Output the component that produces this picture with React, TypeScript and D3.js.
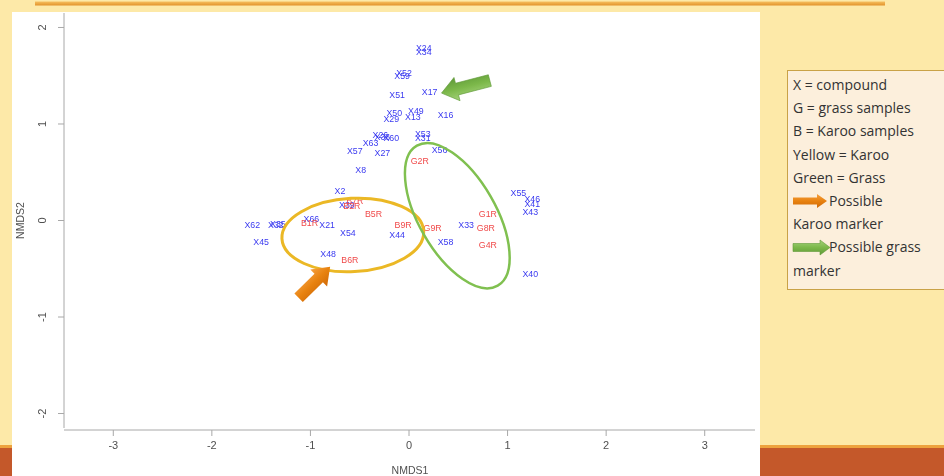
import React from 'react';
import * as d3 from 'd3';

// compound scores (blue labels)
const compoundLabels = ['X24', 'X34', 'X52', 'X59', 'X51', 'X17', 'X50', 'X29', 'X49', 'X13', 'X16', 'X26', 'X36', 'X60', 'X53', 'X31', 'X63', 'X57', 'X27', 'X56', 'X8', 'X2', 'X39', 'X66', 'X21', 'X54', 'X48', 'X62', 'X32', 'X35', 'X45', 'X44', 'X58', 'X33', 'X55', 'X46', 'X41', 'X43', 'X40'];
const compoundX = [0.15, 0.15, -0.05, -0.07, -0.12, 0.21, -0.15, -0.18, 0.07, 0.04, 0.37, -0.29, -0.27, -0.18, 0.14, 0.14, -0.39, -0.55, -0.27, 0.31, -0.49, -0.70, -0.63, -0.99, -0.83, -0.62, -0.82, -1.59, -1.35, -1.33, -1.50, -0.12, 0.37, 0.58, 1.11, 1.25, 1.25, 1.23, 1.23];
const compoundY = [1.79, 1.75, 1.53, 1.50, 1.30, 1.33, 1.11, 1.05, 1.13, 1.07, 1.09, 0.89, 0.87, 0.86, 0.90, 0.86, 0.80, 0.72, 0.70, 0.73, 0.52, 0.31, 0.16, 0.02, -0.05, -0.13, -0.35, -0.05, -0.05, -0.04, -0.22, -0.15, -0.22, -0.05, 0.29, 0.22, 0.17, 0.09, -0.55];

// sample scores (red labels)
const sampleLabels = ['G2R', 'B7R', 'B2R', 'B5R', 'B1R', 'B6R', 'B9R', 'G9R', 'G1R', 'G8R', 'G4R'];
const sampleX = [0.11, -0.55, -0.58, -0.36, -1.01, -0.60, -0.06, 0.24, 0.80, 0.78, 0.80];
const sampleY = [0.62, 0.20, 0.15, 0.07, -0.03, -0.41, -0.05, -0.08, 0.07, -0.08, -0.25];

const xTicks = [-3, -2, -1, 0, 1, 2, 3];
const yTicks = [-2, -1, 0, 1, 2];

const legendLines = ['X = compound', 'G = grass samples', 'B = Karoo  samples', 'Yellow = Karoo', 'Green = Grass', 'Possible', 'Karoo marker', 'Possible grass', 'marker'];

const W = 944;
const H = 476;

const x = d3.scaleLinear().domain([-3.5, 3.5]).range([64, 754]);
const y = d3.scaleLinear().domain([-2.15, 2.15]).range([428, 13]);

// block arrow pointing along +x, drawn from the origin
const blockArrow = (len: number, shaft: number, head: number, headLen: number) => {
  const s = shaft / 2;
  const h = head / 2;
  return `M0,${-s} L${len - headLen},${-s} L${len - headLen},${-h} L${len},0 L${len - headLen},${h} L${len - headLen},${s} L0,${s} Z`;
};

const arrowAt = (x0: number, y0: number, x1: number, y1: number) => {
  const dx = x1 - x0;
  const dy = y1 - y0;
  const len = Math.sqrt(dx * dx + dy * dy);
  const ang = (Math.atan2(dy, dx) * 180) / Math.PI;
  return { len, transform: `translate(${x0},${y0}) rotate(${ang})` };
};

export default function App() {
  const font = '"Liberation Sans", Arial, sans-serif';
  const orangeArrow = arrowAt(x(-1.12), y(-0.8), x(-0.8), y(-0.48));
  const greenArrow = arrowAt(x(0.82), y(1.45), x(0.33), y(1.32));

  return (
    <svg width={W} height={H} style={{ position: 'absolute', left: 0, top: 0 }}>
      <defs>
        <linearGradient id="og" x1="0" y1="0" x2="0" y2="1">
          <stop offset="0" stopColor="#f5a040" />
          <stop offset="0.5" stopColor="#e8820f" />
          <stop offset="1" stopColor="#d06a08" />
        </linearGradient>
        <linearGradient id="gg" x1="0" y1="0" x2="0" y2="1">
          <stop offset="0" stopColor="#a4d27a" />
          <stop offset="0.5" stopColor="#7cb84a" />
          <stop offset="1" stopColor="#5f9a38" />
        </linearGradient>
        <linearGradient id="topline" x1="0" y1="0" x2="0" y2="1">
          <stop offset="0" stopColor="#f6c060" />
          <stop offset="1" stopColor="#e2922a" />
        </linearGradient>
        <filter id="soft">
          <feGaussianBlur stdDeviation="0.35" />
        </filter>
      </defs>

      {/* slide background */}
      <rect x={0} y={0} width={W} height={H} fill="#fde9a8" />
      <rect x={0} y={445} width={W} height={3} fill="#eda23e" />
      <rect x={0} y={448} width={W} height={28} fill="#c4582a" />
      <rect x={35} y={1.5} width={850} height={4} fill="url(#topline)" />

      {/* chart panel */}
      <rect x={12} y={12} width={748} height={464} fill="#ffffff" />

      {/* axes */}
      <g stroke="#a8a8a8" strokeWidth={1} fill="none">
        <line x1={64} x2={64} y1={y(2.15)} y2={y(-2.15)} />
        <line x1={64} x2={755} y1={430} y2={430} />
        {yTicks.map(t => (
          <line key={t} x1={58} x2={64} y1={y(t)} y2={y(t)} />
        ))}
        {xTicks.map(t => (
          <line key={t} x1={x(t)} x2={x(t)} y1={430} y2={436} />
        ))}
      </g>
      <g fontFamily={font} fontSize={11} fill="#505050" filter="url(#soft)">
        {xTicks.map(t => (
          <text key={t} x={x(t)} y={449} textAnchor="middle">{t}</text>
        ))}
        {yTicks.map(t => (
          <text key={t} transform={`translate(46,${y(t)}) rotate(-90)`} textAnchor="middle">{t}</text>
        ))}
        <text x={410} y={474} textAnchor="middle" fontSize={10.5}>NMDS1</text>
        <text transform={`translate(24,${y(0)}) rotate(-90)`} textAnchor="middle" fontSize={10.5}>NMDS2</text>
      </g>

      {/* point labels */}
      <g fontFamily={font} fontSize={8.8} textAnchor="middle" dominantBaseline="central" filter="url(#soft)">
        {compoundLabels.map((l, i) => (
          <text key={l + i} x={x(compoundX[i])} y={y(compoundY[i])} fill="#3a3af0">{l}</text>
        ))}
        {sampleLabels.map((l, i) => (
          <text key={l + i} x={x(sampleX[i])} y={y(sampleY[i])} fill="#f04a4a">{l}</text>
        ))}
      </g>

      {/* grouping ellipses */}
      <ellipse
        cx={x(-0.57)} cy={y(-0.15)}
        rx={x(0.72) - x(0)} ry={y(0) - y(0.38)}
        transform={`rotate(-3 ${x(-0.57)} ${y(-0.15)})`}
        fill="none" stroke="#ebb825" strokeWidth={3}
      />
      <ellipse
        cx={x(0.49)} cy={y(0.05)}
        rx={x(0.82) - x(0)} ry={x(0.39) - x(0)}
        transform={`rotate(60 ${x(0.49)} ${y(0.05)})`}
        fill="none" stroke="#80c050" strokeWidth={2.5}
      />

      {/* marker arrows */}
      <path d={blockArrow(orangeArrow.len, 12, 24, 16)} transform={orangeArrow.transform} fill="url(#og)" />
      <path d={blockArrow(greenArrow.len, 12, 24, 16)} transform={greenArrow.transform} fill="url(#gg)" stroke="#5f9a38" strokeWidth={0.6} />

      {/* legend box */}
      <rect x={787.5} y={70.5} width={160} height={219} fill="#fcefdc" stroke="#c9a247" strokeWidth={1} />
      <g fontFamily='"Open Sans", sans-serif' fontSize={14} fill="#333">
        {legendLines.map((l, i) => {
          const indent = i === 5 || i === 7 ? 36 : 0;
          return (
            <text key={i} x={793 + indent} y={90 + i * 23.2} textLength={undefined}>{l}</text>
          );
        })}
      </g>
      <path d={blockArrow(34, 7, 14, 10)} transform="translate(793,201)" fill="url(#og)" />
      <path d={blockArrow(37, 8, 15, 10)} transform="translate(793,247.5)" fill="url(#gg)" stroke="#5f9a38" strokeWidth={0.6} />
    </svg>
  );
}
